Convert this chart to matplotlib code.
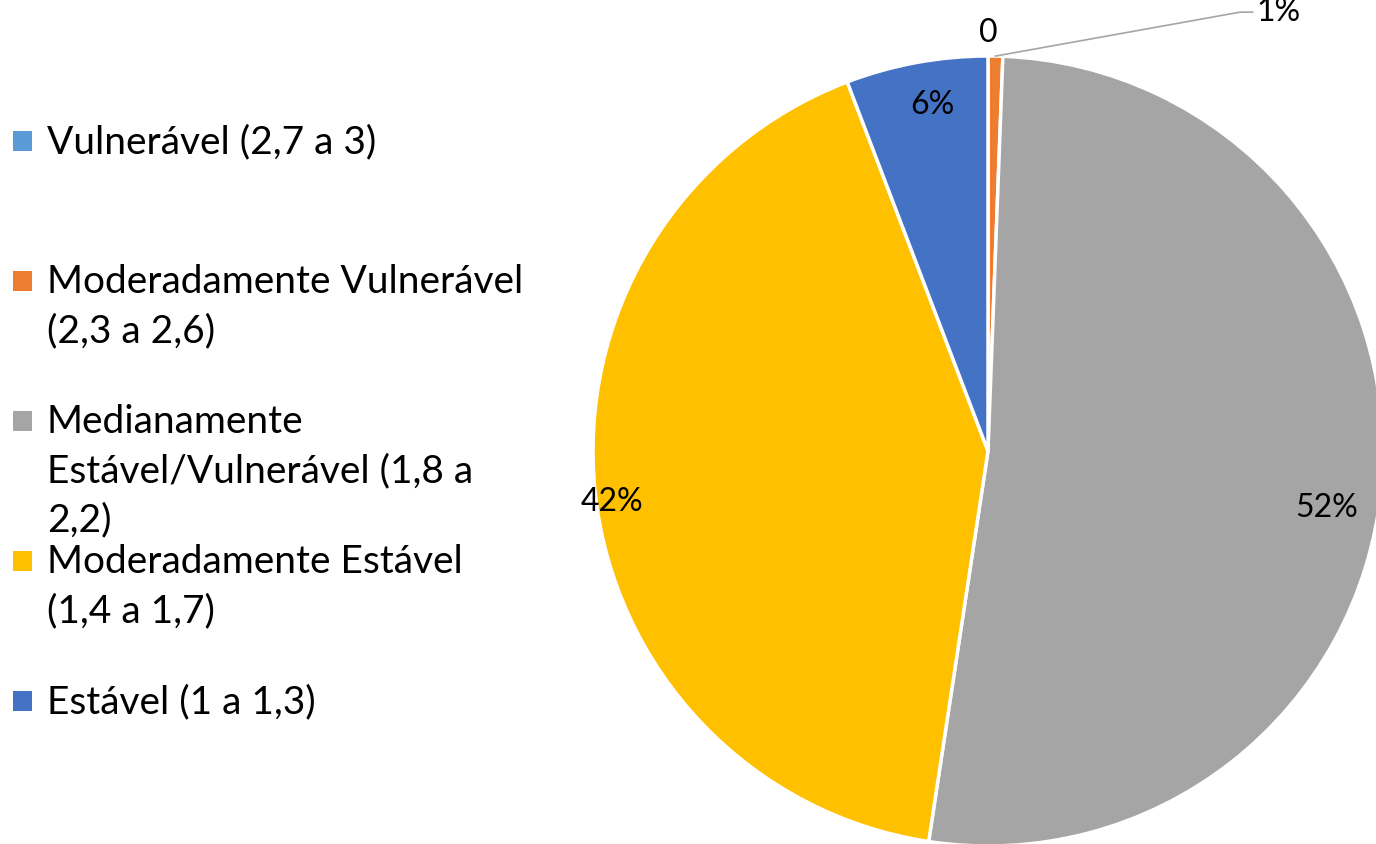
import numpy as np
import matplotlib
matplotlib.use("Agg")
import matplotlib.pyplot as plt
from matplotlib.patches import Rectangle

plt.rcParams['font.family'] = ['Lato', 'DejaVu Sans']

# classes de estabilidade (ordem do gráfico, sentido horário a partir do topo)
classes = ["Vulnerável (2,7 a 3)",
           "Moderadamente Vulnerável\n(2,3 a 2,6)",
           "Medianamente\nEstável/Vulnerável (1,8 a\n2,2)",
           "Moderadamente Estável\n(1,4 a 1,7)",
           "Estável (1 a 1,3)"]
percentuais = [0, 0.6, 51.8, 41.8, 5.8]
cores = ["#5B9BD5", "#ED7D31", "#A5A5A5", "#FFC000", "#4472C4"]

W, H = 1376, 845
fig = plt.figure(figsize=(W / 100, H / 100), dpi=100)

# pizza: centro (988, 452) px, raio 395 px
cx, cy, r = 988, 452, 395
ax = fig.add_axes([(cx - r) / W, (H - cy - r) / H, 2 * r / W, 2 * r / H])
wedges, _ = ax.pie(percentuais, colors=cores, startangle=90, counterclock=False,
                   wedgeprops=dict(edgecolor="white", linewidth=2.5))
ax.set_xlim(-1, 1)
ax.set_ylim(-1, 1)
ax.set_aspect("equal")
ax.axis("off")

def rotulo(v):
    if v == 0:
        return "0"
    return "%d%%" % round(v)

# posição dos rótulos: distância ao centro (fração do raio) e ajuste de ângulo
dist = [1.06, None, 0.87, 0.96, 0.89]
giro = [0, 0, -4, 1.5, -1.4]
for w, v, d, g in zip(wedges, percentuais, dist, giro):
    if d is None:
        continue
    ang = np.deg2rad((w.theta1 + w.theta2) / 2 + g)
    ax.text(d * np.cos(ang), d * np.sin(ang), rotulo(v), ha="center", va="center",
            fontsize=23, color="black")

# fatia pequena com linha de chamada
w = wedges[1]
ang = np.deg2rad((w.theta1 + w.theta2) / 2)
x0, y0 = np.cos(ang), np.sin(ang)
ax.plot([x0, 0.638, 0.67], [y0, 1.111, 1.111], color="#A5A5A5", lw=1.2, clip_on=False)
ax.text(0.68, 1.09, rotulo(percentuais[1]), ha="left", va="baseline", fontsize=23)

# legenda à esquerda, uma linha de texto por vez
for i, (nome, cor) in enumerate(zip(classes, cores)):
    ym = 142 + 140 * i
    fig.patches.append(Rectangle((13 / W, (H - ym - 10) / H), 19 / W, 20 / H,
                                 transform=fig.transFigure, facecolor=cor, edgecolor="none"))
    for k, linha in enumerate(nome.split("\n")):
        fig.text(47 / W, (H - ym - 11 - 49 * k) / H, linha, ha="left", va="baseline",
                 fontsize=28, color="black")

fig.savefig("out.png", dpi=100)
